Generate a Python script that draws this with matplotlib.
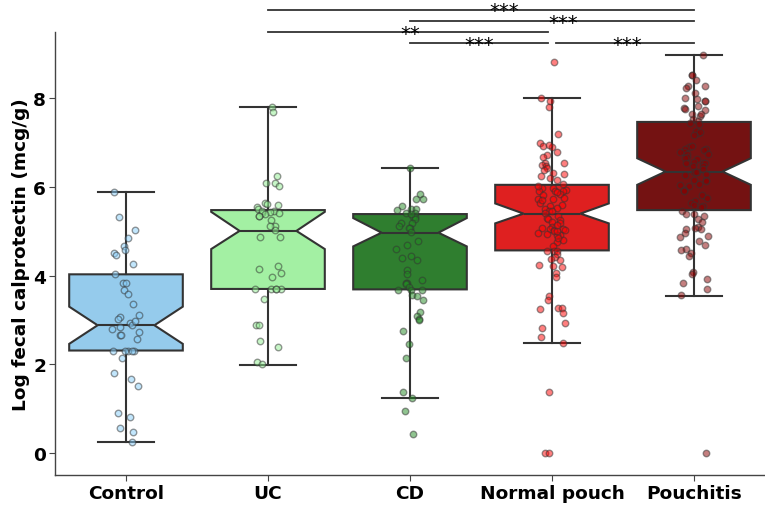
import numpy as np
import matplotlib
matplotlib.use("Agg")
import matplotlib.pyplot as plt

# ---------------- data ----------------
categories = ["Control", "UC", "CD", "Normal pouch", "Pouchitis"]

# box statistics
q1 = [2.31, 3.70, 3.69, 4.57, 5.48]
med = [2.88, 5.01, 4.97, 5.40, 6.35]
q3 = [4.03, 5.48, 5.39, 6.05, 7.47]
whislo = [0.25, 1.98, 1.23, 2.48, 3.55]
whishi = [5.89, 7.80, 6.44, 8.00, 8.98]
cilo = [2.46, 4.60, 4.66, 5.18, 6.05]
cihi = [3.30, 5.44, 5.30, 5.63, 6.65]

control_pts = [5.89, 5.33, 5.02, 4.84, 4.52, 4.67, 4.58, 4.46, 4.27, 4.03, 3.83, 3.84,
               3.68, 3.59, 3.37, 3.11, 3.06, 2.93, 2.88, 2.85, 2.79, 2.72, 2.67, 2.67,
               2.58, 2.31, 2.31, 2.31, 2.31, 2.31, 2.13, 1.80, 1.66, 1.52, 0.90, 0.81,
               0.56, 0.48, 0.25, 3.02, 2.98]
uc_pts = [7.80, 7.69, 6.24, 6.09, 6.09, 6.03, 5.55, 5.59, 5.63, 5.61, 5.51, 5.46, 5.42,
          5.42, 5.45, 5.44, 5.39, 5.26, 5.34, 5.34, 5.11, 5.03, 5.11, 4.87, 4.87, 4.21,
          4.16, 4.05, 3.98, 3.70, 3.70, 3.70, 3.70, 3.70, 3.48, 2.89, 2.89, 2.52, 2.38,
          2.05, 2.01]
cd_pts = [6.44, 5.84, 5.72, 5.72, 5.57, 5.51, 5.51, 5.48, 5.42, 5.42, 5.33, 5.33, 5.27,
          5.39, 5.18, 5.18, 5.07, 5.11, 5.07, 4.99, 4.78, 4.69, 4.60, 4.45, 4.39, 4.36,
          4.13, 4.03, 3.91, 3.83, 3.83, 3.81, 3.74, 3.68, 3.68, 3.68, 3.56, 3.53, 3.45,
          3.17, 3.10, 3.03, 3.00, 2.76, 2.45, 2.15, 1.38, 1.23, 0.95, 0.43]
normal_pouch_pts = [8.82, 8.02, 7.94, 7.81, 7.20, 6.99, 6.92, 6.90, 6.94, 6.79, 6.72, 6.68,
                    6.55, 6.54, 6.50, 6.48, 6.42, 6.39, 6.31, 6.29, 6.25, 6.20, 6.15, 6.08,
                    5.94, 5.97, 5.97, 5.91, 5.91, 5.90, 5.81, 5.84, 5.76, 5.74, 5.73, 5.63,
                    5.57, 5.59, 5.51, 5.52, 5.45, 5.42, 5.35, 5.31, 5.29, 5.25, 5.22, 5.18,
                    5.10, 5.08, 5.05, 5.05, 5.02, 5.02, 4.96, 4.94, 4.91, 4.91, 5.00, 5.00,
                    4.81, 4.75, 4.68, 4.56, 4.56, 4.56, 4.50, 4.41, 4.35, 4.37, 4.24, 4.21,
                    4.20, 4.06, 3.96, 3.55, 3.45, 3.28, 3.24, 3.26, 3.15, 2.92, 2.82, 2.61,
                    2.48, 1.37, 0.0, 0.0, 5.88, 5.70, 5.47, 5.15, 4.86, 6.02]
pouchitis_pts = [8.98, 8.52, 8.52, 8.41, 8.28, 8.27, 8.24, 8.13, 8.02, 7.98, 7.95, 7.95,
                 7.79, 7.82, 7.74, 7.77, 7.66, 7.60, 7.64, 7.54, 7.50, 7.43, 7.44, 7.21,
                 7.26, 7.25, 7.17, 6.90, 6.93, 6.86, 6.86, 6.80, 6.78, 6.83, 6.75, 6.74,
                 6.68, 6.66, 6.63, 6.57, 6.55, 6.55, 6.55, 6.48, 6.48, 6.40, 6.30, 6.35,
                 6.34, 6.34, 6.27, 6.17, 6.16, 6.14, 6.05, 6.08, 6.03, 5.93, 5.91, 5.82,
                 5.76, 5.69, 5.63, 5.60, 5.57, 5.54, 5.46, 5.39, 5.35, 5.40, 5.27, 5.20,
                 5.09, 5.05, 5.07, 5.06, 4.96, 4.89, 4.88, 4.79, 4.70, 4.60, 4.57, 4.51,
                 4.45, 4.08, 4.03, 3.93, 3.83, 3.70, 3.56, 0.0]
group_points = [control_pts, uc_pts, cd_pts, normal_pouch_pts, pouchitis_pts]

# significance annotations: (start group, end group, y, label, label x)
sig_start = [1, 2, 1, 2, 3]
sig_end = [4, 4, 3, 3, 4]
sig_y = [10.0, 9.75, 9.5, 9.25, 9.25]
sig_labels = ["***", "***", "**", "***", "***"]
sig_text_x = [2.66, 3.08, 2.0, 2.49, 3.53]

# ---------------- style ----------------
box_colors = ["#95CBEC", "#A3F0A3", "#2F7E2F", "#DF2020", "#741212"]
point_colors = ["#87CEFA", "#90EE90", "#228B22", "#FF0000", "#8B0000"]
line_col = "#333333"

fig = plt.figure(figsize=(7.65, 5.06), dpi=100)
ax = fig.add_axes([55 / 765, 30 / 506, 710 / 765, 443 / 506])

stats = []
for i, name in enumerate(categories):
    stats.append(dict(label=name, med=med[i], q1=q1[i], q3=q3[i],
                      whislo=whislo[i], whishi=whishi[i],
                      cilo=cilo[i], cihi=cihi[i], fliers=[]))

bp = ax.bxp(stats, positions=range(len(categories)), widths=0.8,
            shownotches=True, patch_artist=True, showfliers=False,
            boxprops=dict(edgecolor=line_col, linewidth=1.5),
            medianprops=dict(color=line_col, linewidth=1.5),
            whiskerprops=dict(color=line_col, linewidth=1.5),
            capprops=dict(color=line_col, linewidth=1.5))
for patch, c in zip(bp["boxes"], box_colors):
    patch.set_facecolor(c)

rng = np.random.default_rng(3)
for i, pts in enumerate(group_points):
    xs = i + rng.uniform(-0.1, 0.1, len(pts))
    ax.scatter(xs, pts, s=22, facecolor=point_colors[i], edgecolor="#333333",
               linewidth=1.0, alpha=0.5, zorder=3)

for s, e, y, lab, tx in zip(sig_start, sig_end, sig_y, sig_labels, sig_text_x):
    x0 = s + (0.03 if s == 3 else 0.0)
    x1 = e - (0.03 if e == 3 else 0.0)
    ax.plot([x0, x1], [y, y], color=line_col, lw=1.3, clip_on=False)
    ax.text(tx, y - 0.15, lab, ha="center", va="baseline", fontsize=14,
            clip_on=False)

ax.set_xlim(-0.5, 4.5)
ax.set_ylim(-0.5, 9.5)
ax.set_xticks(range(len(categories)))
ax.set_xticklabels(categories, fontsize=13.3, fontweight="bold")
ax.set_yticks([0, 2, 4, 6, 8])
ax.set_yticklabels(["0", "2", "4", "6", "8"], fontsize=13.3, fontweight="bold")
ax.set_ylabel("Log fecal calprotectin (mcg/g)", fontsize=13.3, fontweight="bold",
              labelpad=2)
for sp in ["top", "right"]:
    ax.spines[sp].set_visible(False)
for sp in ["left", "bottom"]:
    ax.spines[sp].set_color("#444444")
    ax.spines[sp].set_linewidth(1.0)
ax.tick_params(colors="#444444", labelcolor="black", length=4, pad=2.5)

fig.savefig("out.png", dpi=100)
